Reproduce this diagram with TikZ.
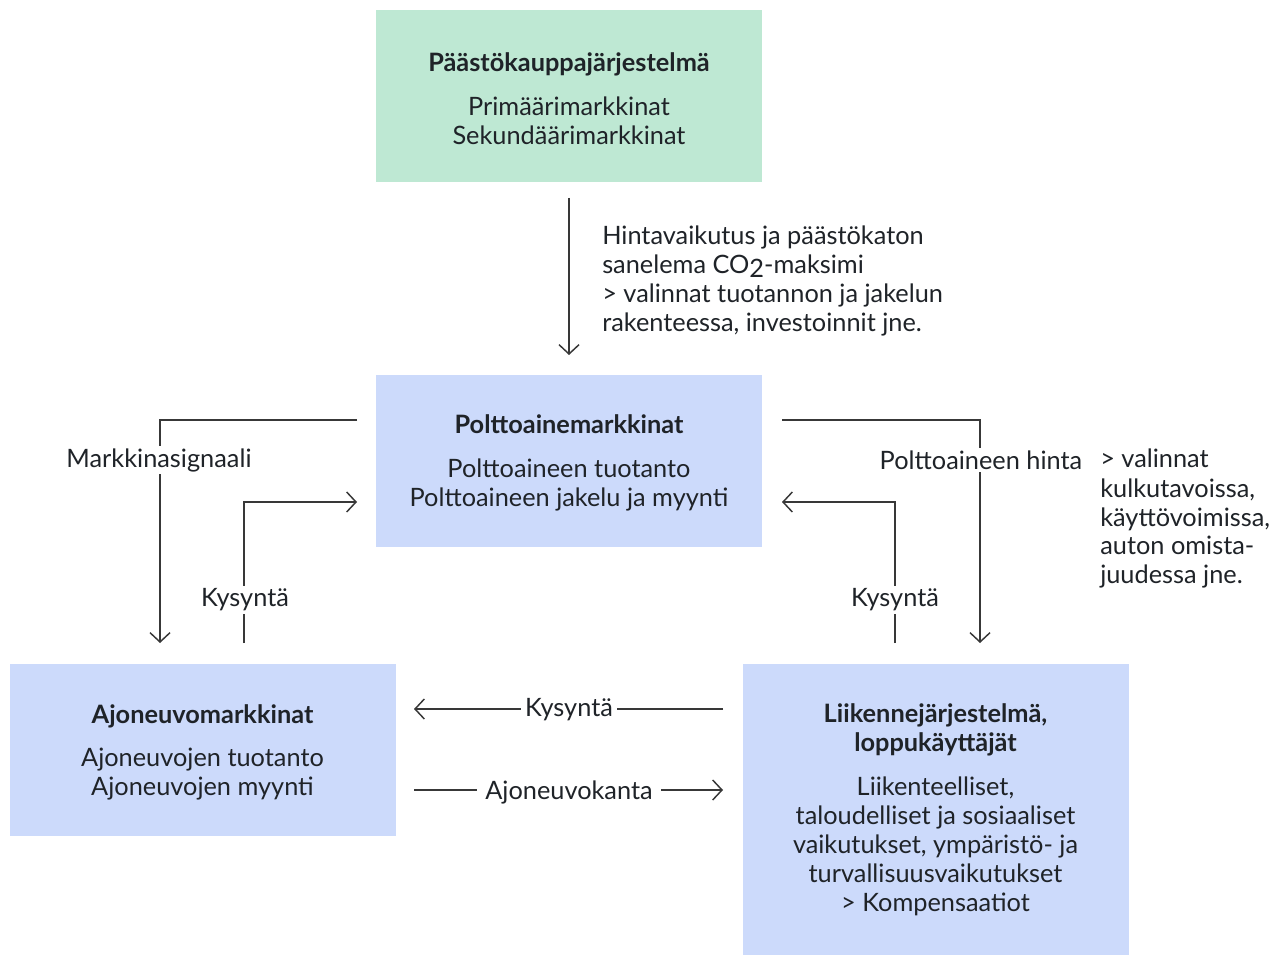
\documentclass[tikz,border=0pt]{standalone}
\usepackage{fontspec}
\setmainfont{Lato}
\usetikzlibrary{arrows.meta}
\definecolor{etsgreen}{HTML}{BEE8D3}
\definecolor{mktblue}{HTML}{CCDAFB}
\definecolor{txt}{HTML}{1F2328}
\definecolor{ln}{HTML}{383838}
\tikzset{
  box/.style={draw=none, inner sep=0pt, minimum width=289.5pt},
  boxtext/.style={align=center, text=txt, inner sep=0pt, font=\fontsize{19}{21.75}\selectfont},
  lbl/.style={fill=white, text=txt, inner sep=2pt, font=\fontsize{19}{21.75}\selectfont},
  note/.style={text=txt, align=left, anchor=base west, inner sep=0pt, font=\fontsize{19}{21.75}\selectfont},
  arr/.style={draw=ln, line width=1.1pt, -{Straight Barb[length=7pt,width=15pt]}},
}
\begin{document}
\begin{tikzpicture}[x=0.75pt, y=-0.75pt]
\useasboundingbox (0,0) rectangle (1279,955);
\fill[white] (0,0) rectangle (1279,955);

% boxes
\node[box, fill=etsgreen, minimum height=129pt] (ets) at (569,96) {};
\node[boxtext] (etsT) at (569,99)
  {\textbf{Päästökauppajärjestelmä}\\[11pt]Primäärimarkkinat\\Sekundäärimarkkinat};
\node[box, fill=mktblue, minimum height=129pt] (fuel) at (569,461) {};
\node[boxtext] (fuelT) at (569,463)
  {\textbf{Polttoainemarkkinat}\\[11pt]Polttoaineen tuotanto\\Polttoaineen jakelu ja myynti};
\node[box, fill=mktblue, minimum height=129pt] (veh) at (202.5,750) {};
\node[boxtext] (vehT) at (202.5,752.5)
  {\textbf{Ajoneuvomarkkinat}\\[11pt]Ajoneuvojen tuotanto\\Ajoneuvojen myynti};
\node[box, fill=mktblue, minimum height=218.25pt] (traf) at (935.5,809.5) {};
\node[boxtext] (trafT) at (935.5,810)
  {\textbf{Liikennejärjestelmä,}\\\textbf{loppukäyttäjät}\\[11pt]Liikenteelliset,\\taloudelliset ja sosiaaliset\\vaikutukset, ympäristö- ja\\turvallisuusvaikutukset\\> Kompensaatiot};

% ETS -> fuel
\coordinate (e1) at (569,198);
\coordinate (e2) at (569,355);
\draw[arr] (e1) -- (e2);
\node[note] (etsnote) at (602,332)
  {Hintavaikutus ja päästökaton\\sanelema CO\raisebox{-0.3ex}{2}-maksimi\\> valinnat tuotannon ja jakelun\\rakenteessa, investoinnit jne.};

% fuel -> vehicles (market signal)
\coordinate (m1) at (357,420);
\coordinate (m2) at (160,643);
\draw[arr] (m1) -| (m2);
\node[lbl] (msig) at (159,460) {Markkinasignaali};

% vehicles -> fuel (demand)
\coordinate (k1) at (244,643);
\coordinate (k2) at (357,502);
\draw[arr] (k1) |- (k2);
\node[lbl] (kys1) at (245,600) {Kysyntä};

% fuel -> traffic (fuel price)
\coordinate (p1) at (782,420);
\coordinate (p2) at (980,643);
\draw[arr] (p1) -| (p2);
\node[lbl] (phinta) at (981,460) {Polttoaineen hinta};
\node[note] (valnote) at (1100,584)
  {> valinnat\\kulkutavoissa,\\käyttövoimissa,\\auton omista-\\juudessa jne.};

% traffic -> fuel (demand)
\coordinate (r1) at (895,643);
\coordinate (r2) at (782,502);
\draw[arr] (r1) |- (r2);
\node[lbl] (kys2) at (895,600) {Kysyntä};

% traffic <-> vehicles
\coordinate (b1) at (723,709);
\coordinate (b2) at (414,709);
\draw[arr] (b1) -- (b2);
\node[lbl, inner xsep=3pt] (kys3) at (569,710) {Kysyntä};

\coordinate (c1) at (414,790);
\coordinate (c2) at (723,790);
\draw[arr] (c1) -- (c2);
\node[lbl, inner xsep=6pt] (ajk) at (569,792) {Ajoneuvokanta};
\end{tikzpicture}
\end{document}
